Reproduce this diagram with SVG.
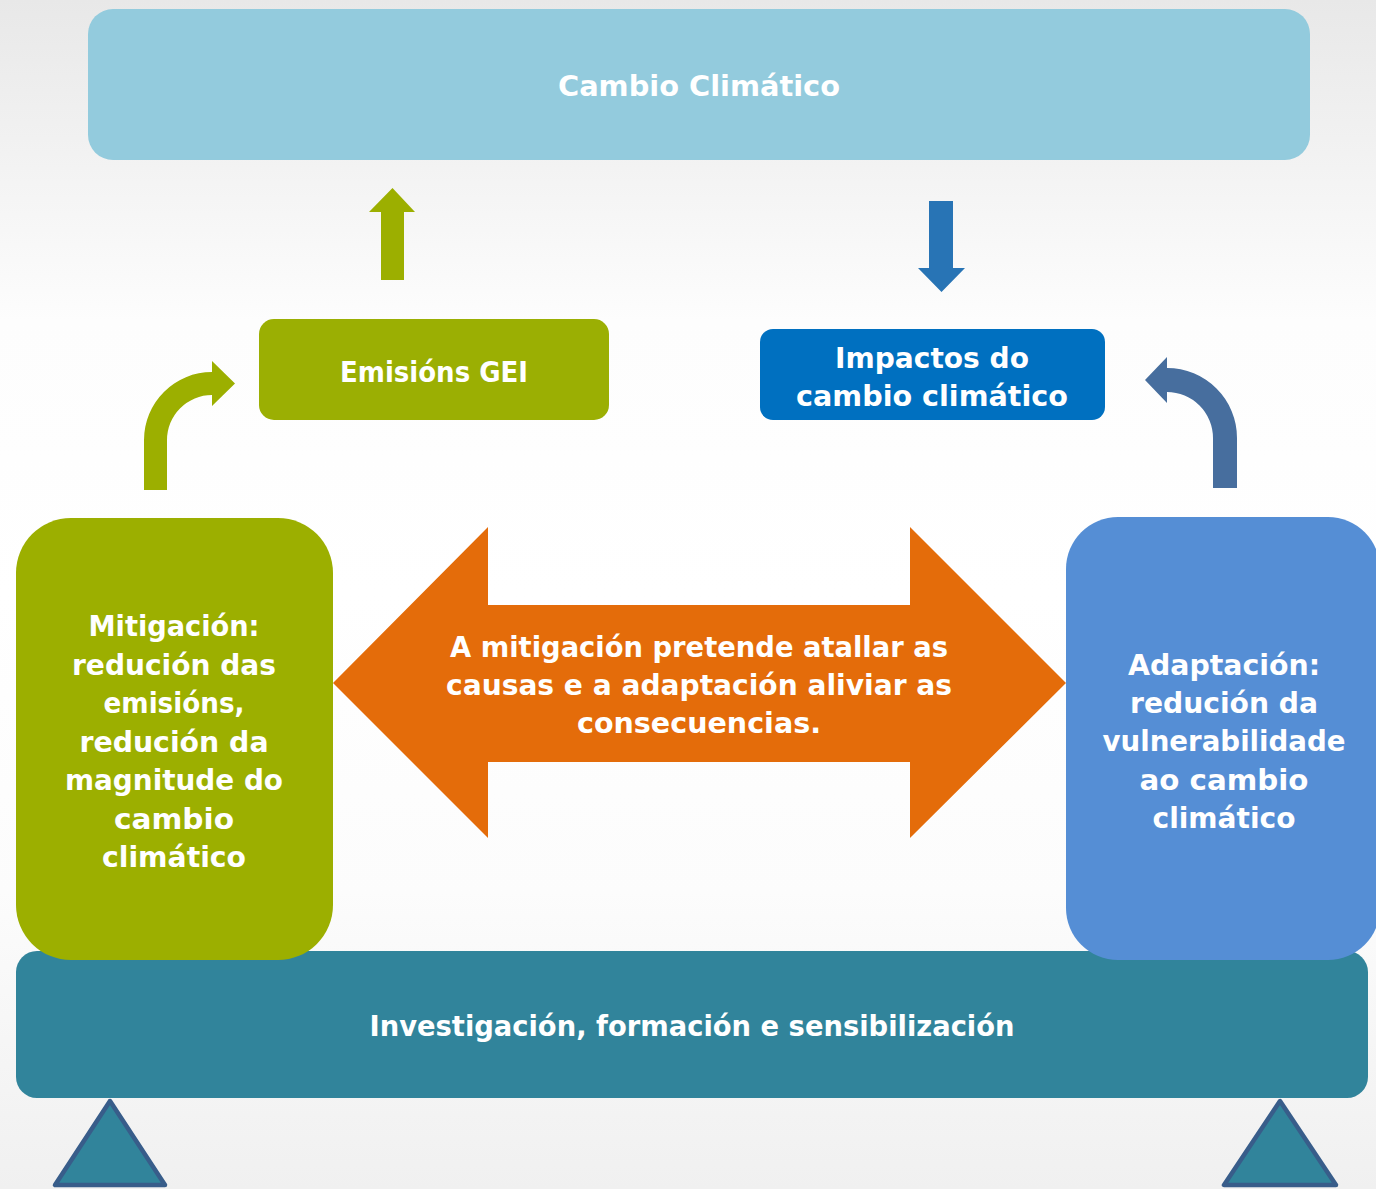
<svg xmlns="http://www.w3.org/2000/svg" width="1376" height="1189" viewBox="0 0 1376 1189">
<defs>
<linearGradient id="bg" x1="0" y1="0" x2="0" y2="1">
<stop offset="0" stop-color="#e8e8e8"/>
<stop offset="0.27" stop-color="#fdfdfd"/>
<stop offset="0.5" stop-color="#ffffff"/>
<stop offset="0.75" stop-color="#fcfcfc"/>
<stop offset="1" stop-color="#f0f0f0"/>
</linearGradient>
<style>
text{font-family:"DejaVu Sans","Liberation Sans",sans-serif;font-weight:bold;font-size:29px;fill:#ffffff;text-anchor:middle}
.tri{fill:#31849b;stroke:#385d8a;stroke-width:4.5;stroke-linejoin:round}
</style>
</defs>
<rect width="1376" height="1189" fill="url(#bg)"/>

<g id="connectors">
<polygon id="arrow-up" points="381,280 404,280 404,212 415,212 392.5,188 369,212 381,212" fill="#9caf00"/>
<polygon id="arrow-down" points="929,201 953,201 953,268 965,268 941.5,292 918,268 929,268" fill="#2874b5"/>
<path id="arrow-curve-left" d="M 144 490 L 144 440 A 68 68 0 0 1 212 372 L 212 361 L 235 383.5 L 212 406 L 212 395 A 45 45 0 0 0 167 440 L 167 490 Z" fill="#9caf00"/>
<path id="arrow-curve-right" d="M 1237 488 L 1237 438 A 70 70 0 0 0 1167 368 L 1167 357 L 1145 380 L 1167 403 L 1167 392 A 46 46 0 0 1 1213 438 L 1213 488 Z" fill="#476e9e"/>
</g>

<g id="node-cambio">
<rect x="88" y="9" width="1222" height="151" rx="25" fill="#93cbdd"/>
<text x="699" y="96" textLength="282" lengthAdjust="spacingAndGlyphs">Cambio Climático</text>
</g>

<g id="node-emisions">
<rect x="259" y="319" width="350" height="101" rx="15" fill="#9baf03"/>
<text x="434" y="382" textLength="188" lengthAdjust="spacingAndGlyphs">Emisións GEI</text>
</g>

<g id="node-impactos">
<rect x="760" y="329" width="345" height="91" rx="13" fill="#0070c0"/>
<text x="932" y="368" textLength="194" lengthAdjust="spacingAndGlyphs">Impactos do</text>
<text x="932" y="406" textLength="272" lengthAdjust="spacingAndGlyphs">cambio climático</text>
</g>

<g id="node-investigacion">
<rect x="16" y="951" width="1352" height="147" rx="21" fill="#31849b"/>
<text x="692" y="1036" textLength="645" lengthAdjust="spacingAndGlyphs">Investigación, formación e sensibilización</text>
</g>

<g id="node-mitigacion">
<rect x="16" y="518" width="317" height="442" rx="55" fill="#9caf00"/>
<text x="174" y="636" textLength="171" lengthAdjust="spacingAndGlyphs">Mitigación:</text>
<text x="174" y="675" textLength="204" lengthAdjust="spacingAndGlyphs">redución das</text>
<text x="174" y="713" textLength="141" lengthAdjust="spacingAndGlyphs">emisións,</text>
<text x="174" y="752" textLength="189" lengthAdjust="spacingAndGlyphs">redución da</text>
<text x="174" y="790" textLength="218" lengthAdjust="spacingAndGlyphs">magnitude do</text>
<text x="174" y="829" textLength="120" lengthAdjust="spacingAndGlyphs">cambio</text>
<text x="174" y="867" textLength="144" lengthAdjust="spacingAndGlyphs">climático</text>
</g>

<g id="node-adaptacion">
<rect x="1066" y="517" width="314" height="443" rx="52" fill="#558ed5"/>
<text x="1224" y="675" textLength="192" lengthAdjust="spacingAndGlyphs">Adaptación:</text>
<text x="1224" y="713" textLength="188" lengthAdjust="spacingAndGlyphs">redución da</text>
<text x="1224" y="751" textLength="243" lengthAdjust="spacingAndGlyphs">vulnerabilidade</text>
<text x="1224" y="790" textLength="169" lengthAdjust="spacingAndGlyphs">ao cambio</text>
<text x="1224" y="828" textLength="143" lengthAdjust="spacingAndGlyphs">climático</text>
</g>

<g id="node-relacion">
<polygon points="333,683 488,527 488,605 910,605 910,527 1066,683 910,838 910,762 488,762 488,838" fill="#e46c0a"/>
<text x="699" y="657" textLength="498" lengthAdjust="spacingAndGlyphs">A mitigación pretende atallar as</text>
<text x="699" y="695" textLength="506" lengthAdjust="spacingAndGlyphs">causas e a adaptación aliviar as</text>
<text x="699" y="733" textLength="244" lengthAdjust="spacingAndGlyphs">consecuencias.</text>
</g>

<g id="node-apoio-esq">
<polygon class="tri" points="110,1101 55,1185 165,1185"/>
</g>
<g id="node-apoio-der">
<polygon class="tri" points="1280,1101 1224,1185 1336,1185"/>
</g>
</svg>
